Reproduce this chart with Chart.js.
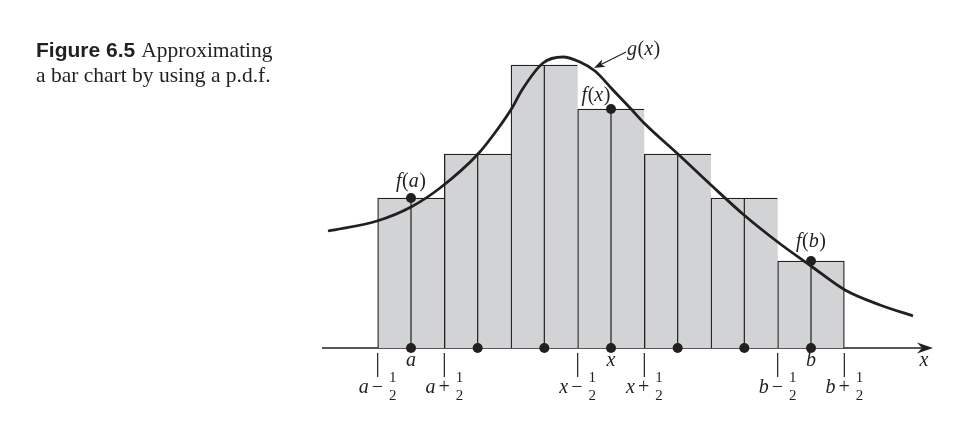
<!DOCTYPE html>
<html>
<head>
<meta charset="utf-8">
<script src="https://cdn.jsdelivr.net/npm/chart.js@4/dist/chart.umd.min.js"></script>
<style>
  html, body { margin: 0; padding: 0; background: #ffffff; }
  #wrap { position: relative; width: 974px; height: 425px; overflow: hidden; }
  #c { position: absolute; left: 0; top: 0; }
  #caption {
    position: absolute; left: 36px; top: 37px; z-index: 2;
    font-family: "Liberation Serif", "Times New Roman", serif;
    font-size: 21.5px; line-height: 25px; color: #231f20; white-space: nowrap;
  }
  #caption b { font-family: "Liberation Sans", Arial, sans-serif; font-weight: 700; font-size: 21px; margin-right: 6px; }
</style>
</head>
<body>
<div id="wrap">
  <div id="caption"><b>Figure 6.5</b>Approximating<br>a bar chart by using a p.d.f.</div>
  <canvas id="c" width="974" height="425"></canvas>
</div>
<script>
// ---- data ----
const centers = [0, 1, 2, 3, 4, 5, 6];
const centerLabels = ['a', '', '', 'x', '', '', 'b'];
const barValues = [1.50, 1.94, 2.83, 2.39, 1.94, 1.50, 0.87];
const curveX = [-1.245, -0.51, 0, 0.435, 1.005, 1.29, 1.515, 1.665, 1.98, 2.28, 2.535, 2.76, 3.03, 3.315, 3.495, 4.02, 4.5, 4.995, 5.52, 6.0, 6.51, 7.035, 7.53];
const curveY = [1.17, 1.27, 1.41, 1.60, 1.94, 2.18, 2.40, 2.58, 2.85, 2.91, 2.86, 2.77, 2.58, 2.38, 2.25, 1.93, 1.63, 1.33, 1.05, 0.82, 0.58, 0.43, 0.32];
const edgeTicks = [-0.5, 0.5, 2.5, 3.5, 5.5, 6.5];
const edgeLetters = ['a', 'a', 'x', 'x', 'b', 'b'];
const edgeOps = ['\u2212', '+', '\u2212', '+', '\u2212', '+'];
const fPointIdx = [0, 3, 6];
const fPointArgs = ['a', 'x', 'b'];
const curveName = 'g';
const curveArg = 'x';
const axisName = 'x';
const axisRange = [-1.335, 7.83];

// ---- styles ----
const INK = '#231f20';
const BAR = '#d1d3d4';
const SERIF = '"Liberation Serif", "Times New Roman", serif';
const IT = (s) => 'italic ' + s + 'px ' + SERIF;
const UP = (s) => s + 'px ' + SERIF;

function runsWidth(ctx, runs) {
  let w = 0;
  runs.forEach(r => { ctx.font = r[1]; w += ctx.measureText(r[0]).width + (r[2] || 0); });
  return w;
}
function drawRuns(ctx, runs, cx, base) {
  let x = cx - runsWidth(ctx, runs) / 2;
  ctx.textAlign = 'left'; ctx.textBaseline = 'alphabetic';
  runs.forEach(r => { ctx.font = r[1]; ctx.fillText(r[0], x, base); x += ctx.measureText(r[0]).width + (r[2] || 0); });
}
function fnRuns(f, arg, s) {
  return [[f, IT(s), 0.5], ['(', UP(s)], [arg, IT(s), 0.5], [')', UP(s)]];
}

const overlay = {
  id: 'overlay',
  beforeDatasetsDraw(chart) {
    const ctx = chart.ctx, xs = chart.scales.x, ys = chart.scales.y;
    const y0 = ys.getPixelForValue(0);
    const x1 = xs.getPixelForValue(axisRange[0]);
    const tip = xs.getPixelForValue(axisRange[1]);
    ctx.save();
    ctx.strokeStyle = INK; ctx.fillStyle = INK; ctx.lineWidth = 1.4;
    ctx.beginPath(); ctx.moveTo(x1, y0); ctx.lineTo(tip - 8, y0); ctx.stroke();
    ctx.beginPath();
    ctx.moveTo(tip, y0); ctx.lineTo(tip - 16, y0 - 5.5); ctx.lineTo(tip - 11, y0);
    ctx.lineTo(tip - 16, y0 + 5.5); ctx.closePath(); ctx.fill();
    ctx.restore();
  },
  afterDatasetsDraw(chart) {
    const ctx = chart.ctx, xs = chart.scales.x, ys = chart.scales.y;
    const y0 = ys.getPixelForValue(0);
    ctx.save();
    ctx.fillStyle = INK; ctx.strokeStyle = INK;
    // center labels under axis
    centers.forEach((c, i) => {
      if (!centerLabels[i]) return;
      drawRuns(ctx, [[centerLabels[i], IT(20)]], xs.getPixelForValue(c), y0 + 18);
    });
    // axis name
    drawRuns(ctx, [[axisName, IT(20)]], xs.getPixelForValue(axisRange[1]) - 9, y0 + 18);
    // edge ticks and labels
    edgeTicks.forEach((t, i) => {
      const px = xs.getPixelForValue(t);
      ctx.lineWidth = 1.2;
      ctx.beginPath(); ctx.moveTo(px, y0 + 5); ctx.lineTo(px, y0 + 29); ctx.stroke();
      ctx.font = IT(20); const lw = ctx.measureText(edgeLetters[i]).width;
      ctx.font = UP(20); const ow = ctx.measureText(edgeOps[i]).width;
      ctx.font = UP(15); const fw = ctx.measureText('1').width;
      const gap1 = 3, gap2 = 6;
      const total = lw + gap1 + ow + gap2 + fw;
      let x = px - total / 2;
      ctx.textAlign = 'left'; ctx.textBaseline = 'alphabetic';
      ctx.font = IT(20); ctx.fillText(edgeLetters[i], x, y0 + 45); x += lw + gap1;
      ctx.font = UP(20); ctx.fillText(edgeOps[i], x, y0 + 45); x += ow + gap2;
      ctx.font = UP(15); ctx.fillText('1', x, y0 + 34); ctx.fillText('2', x, y0 + 52);
    });
    // f(.) labels near the dots
    const offs = [[0, -11], [-15, -8], [0, -14]];
    fPointIdx.forEach((idx, k) => {
      const px = xs.getPixelForValue(centers[idx]);
      const py = ys.getPixelForValue(barValues[idx]);
      drawRuns(ctx, fnRuns('f', fPointArgs[k], 20), px + offs[k][0], py + offs[k][1]);
    });
    // g(x) label with arrow
    const tipX = xs.getPixelForValue(2.745), tipY = ys.getPixelForValue(2.80);
    const tailX = tipX + 32, tailY = tipY - 16;
    ctx.lineWidth = 1.2;
    ctx.beginPath(); ctx.moveTo(tailX, tailY); ctx.lineTo(tipX + 4, tipY - 2); ctx.stroke();
    const ang = Math.atan2(tipY - tailY, tipX - tailX);
    ctx.save(); ctx.translate(tipX, tipY); ctx.rotate(ang);
    ctx.beginPath(); ctx.moveTo(0, 0); ctx.lineTo(-11, -4); ctx.lineTo(-8, 0); ctx.lineTo(-11, 4); ctx.closePath(); ctx.fill();
    ctx.restore();
    const gRuns = fnRuns(curveName, curveArg, 20);
    drawRuns(ctx, gRuns, tailX + 1 + runsWidth(ctx, gRuns) / 2, tailY + 3);
    ctx.restore();
  }
};

const lastIdx = barValues.length - 1;
new Chart(document.getElementById('c'), {
  type: 'bar',
  data: {
    datasets: [
      {
        type: 'scatter', order: 1,
        data: centers.map(c => ({ x: c, y: 0 })).concat(fPointIdx.map(i => ({ x: centers[i], y: barValues[i] }))),
        pointRadius: 5, pointBackgroundColor: INK, pointBorderWidth: 0, pointHoverRadius: 5
      },
      {
        type: 'line', order: 2,
        data: curveX.map((x, i) => ({ x: x, y: curveY[i] })),
        borderColor: INK, borderWidth: 2.8, pointRadius: 0, fill: false,
        cubicInterpolationMode: 'monotone'
      },
      {
        type: 'line', order: 3,
        data: centers.flatMap((c, i) => [{ x: c, y: 0 }, { x: c, y: barValues[i] }, { x: c, y: null }]),
        borderColor: INK, borderWidth: 1.2, pointRadius: 0, spanGaps: false, tension: 0
      },
      {
        type: 'bar', order: 4,
        data: centers.map((c, i) => ({ x: c, y: barValues[i] })),
        backgroundColor: BAR, borderColor: INK,
        borderWidth: (ctx) => ({ top: 1.3, left: 1.3, bottom: 0, right: ctx.dataIndex === lastIdx ? 1.3 : 0 }),
        borderSkipped: false,
        barPercentage: 1, categoryPercentage: 1
      }
    ]
  },
  options: {
    responsive: false, animation: false, devicePixelRatio: 1,
    layout: { padding: 0, autoPadding: false },
    plugins: { legend: { display: false }, tooltip: { enabled: false } },
    events: [],
    scales: {
      x: { type: 'linear', min: -6.165, max: 8.445, offset: false, display: false },
      y: { type: 'linear', min: -0.77, max: 3.48, display: false }
    }
  },
  plugins: [overlay]
});
</script>
</body>
</html>
